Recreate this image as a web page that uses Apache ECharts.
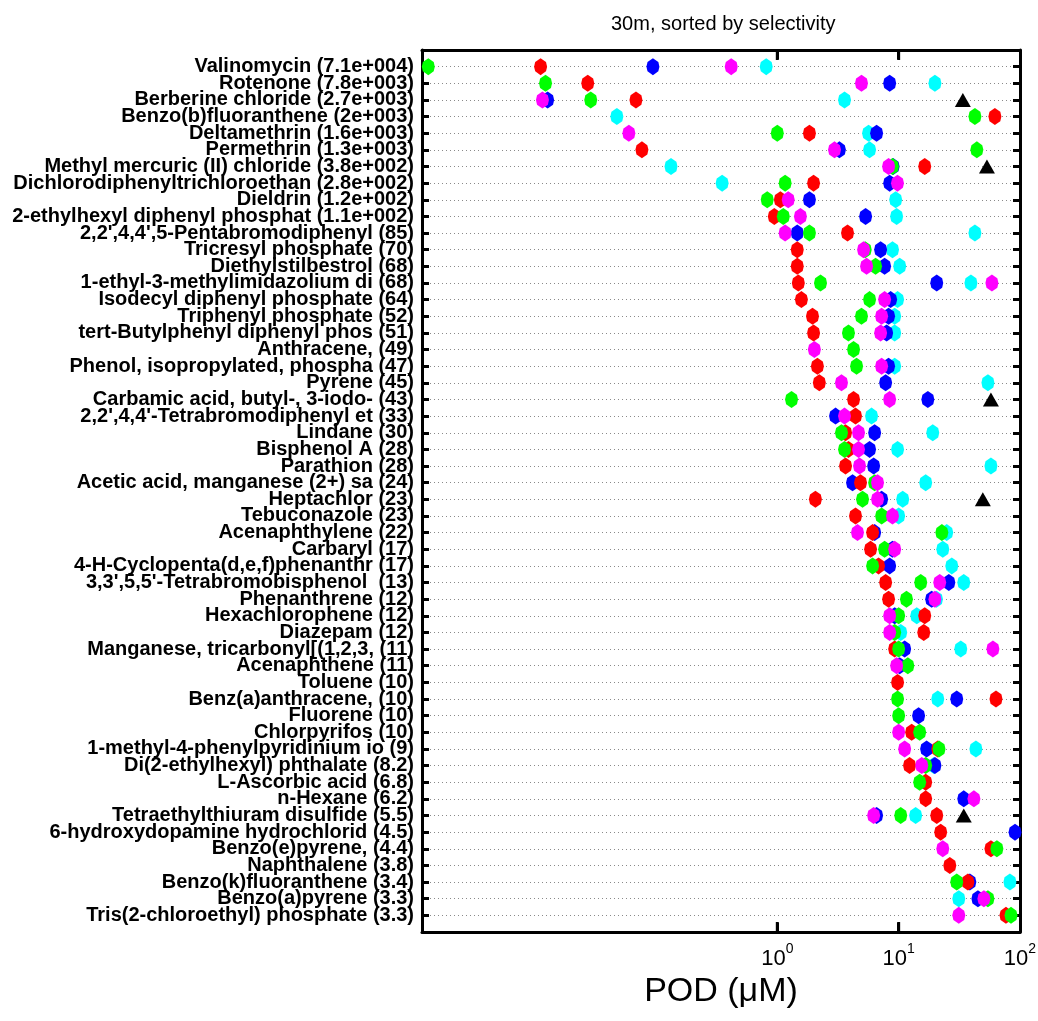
<!DOCTYPE html>
<html>
<head>
<meta charset="utf-8">
<script src="https://cdn.jsdelivr.net/npm/echarts@6/dist/echarts.min.js"></script>
<style>
  html, body { margin: 0; padding: 0; background: #fff; }
  #chartmain { width: 1038px; height: 1021px; }
</style>
</head>
<body>
<div id="chartmain"></div>
<script>
// compounds, top to bottom (selectivity in brackets)
var compounds = [
  'Valinomycin (7.1e+004)', 'Rotenone (7.8e+003)', 'Berberine chloride (2.7e+003)',
  'Benzo(b)fluoranthene (2e+003)', 'Deltamethrin (1.6e+003)', 'Permethrin (1.3e+003)',
  'Methyl mercuric (II) chloride (3.8e+002)', 'Dichlorodiphenyltrichloroethan (2.8e+002)',
  'Dieldrin (1.2e+002)', '2-ethylhexyl diphenyl phosphat (1.1e+002)',
  "2,2',4,4',5-Pentabromodiphenyl (85)", 'Tricresyl phosphate (70)', 'Diethylstilbestrol (68)',
  '1-ethyl-3-methylimidazolium di (68)', 'Isodecyl diphenyl phosphate (64)',
  'Triphenyl phosphate (52)', 'tert-Butylphenyl diphenyl phos (51)', 'Anthracene, (49)',
  'Phenol, isopropylated, phospha (47)', 'Pyrene (45)', 'Carbamic acid, butyl-, 3-iodo- (43)',
  "2,2',4,4'-Tetrabromodiphenyl et (33)", 'Lindane (30)', 'Bisphenol A (28)', 'Parathion (28)',
  'Acetic acid, manganese (2+) sa (24)', 'Heptachlor (23)', 'Tebuconazole (23)',
  'Acenaphthylene (22)', 'Carbaryl (17)', '4-H-Cyclopenta(d,e,f)phenanthr (17)',
  "3,3',5,5'-Tetrabromobisphenol  (13)", 'Phenanthrene (12)', 'Hexachlorophene (12)',
  'Diazepam (12)', 'Manganese, tricarbonyl[(1,2,3, (11)', 'Acenaphthene (11)', 'Toluene (10)',
  'Benz(a)anthracene, (10)', 'Fluorene (10)', 'Chlorpyrifos (10)',
  '1-methyl-4-phenylpyridinium io (9)', 'Di(2-ethylhexyl) phthalate (8.2)',
  'L-Ascorbic acid (6.8)', 'n-Hexane (6.2)', 'Tetraethylthiuram disulfide (5.5)',
  '6-hydroxydopamine hydrochlorid (4.5)', 'Benzo(e)pyrene, (4.4)', 'Naphthalene (3.8)',
  'Benzo(k)fluoranthene (3.4)', 'Benzo(a)pyrene (3.3)', 'Tris(2-chloroethyl) phosphate (3.3)'
];

// POD values (uM), one entry per compound, null = no point
var podGreen = [0.00133, 0.0123, 0.029, 42.5, 1.0, 44.1, 8.9, 1.16, 0.826, 1.12,
  1.84, 5.3, 6.45, 2.27, 5.76, 4.94, 3.86, 4.25, 4.5, null,
  1.31, null, 3.38, 3.58, null, 6.34, 5.04, 7.24, 22.7, 7.66,
  6.1, 15.2, 11.6, 10, 9.27, 10, 11.9, null, 9.8, 10,
  14.9, 21.5, 16.7, 14.9, null, 10.4, null, 64.5, null, 30.1,
  54.4, 84.3];
var podRed = [0.0112, 0.0274, 0.0684, 62.1, 1.84, 0.0766, 16.4, 1.99, 1.06, 0.945,
  3.79, 1.46, 1.46, 1.49, 1.58, 1.95, 1.99, null, 2.14, 2.22,
  4.25, 4.41, 3.65, 3.86, 3.65, 4.85, 2.06, 4.41, 6.1, 5.87,
  6.83, 7.81, 8.26, 16.4, 16.1, 9.27, null, 9.8, 63.4, null,
  12.8, 21, 12.3, 16.7, 16.7, 20.6, 22.2, 57.6, 26.4, 37.2,
  null, 76.6];
var podBlue = [0.0944, 8.43, 0.0128, null, 6.58, 3.25, 9.0, 8.43, 1.84, 5.34,
  1.46, 7.1, 7.66, 20.6, 8.59, 8.26, 7.96, null, 8.26, 7.81,
  17.4, 3.02, 6.34, 5.76, 6.22, 4.17, 7.24, null, 6.34, 8.9,
  8.43, 25.9, 18.7, 9.27, null, 11.2, 10.2, null, 30.1, 14.6,
  null, 17, 19.9, null, 34.4, 6.58, 91, null, null, 38.6,
  45, null];
var podMagenta = [0.417, 4.94, 0.0116, null, 0.0598, 2.96, 8.26, 9.78, 1.23, 1.55,
  1.16, 5.14, 5.44, 58.7, 7.66, 7.24, 7.1, 2.02, 7.24, 3.38,
  8.43, 3.58, 4.67, 4.67, 4.76, 6.7, 6.7, 8.9, 4.58, 9.27,
  null, 21.8, 19.9, 8.43, 8.43, 59.8, 9.62, null, null, null,
  10, 11.2, 15.5, null, 41.7, 6.22, null, 23.1, null, null,
  50.4, 31.3];
var podCyan = [0.81, 19.9, 3.58, 0.0476, 5.65, 5.76, 0.133, 0.351, 9.45, 9.62,
  42.5, 8.9, 10.2, 39.4, 9.8, 9.27, 9.27, null, 9.27, 54.4,
  null, 5.98, 19.1, 9.8, 57.6, 16.7, 10.8, 10, 24.9, 23.1,
  27.4, 34.4, 20.5, 14.1, 10.4, 32.5, null, null, 21, null,
  null, 43.3, 19.5, null, null, 13.8, null, null, null, 82.6,
  31.3, null];
var podTriangle = [null, null, 33.8, null, null, null, 53.4, null, null, null,
  null, null, null, null, null, null, null, null, null, null,
  57.6, null, null, null, null, null, 49.4, null, null, null,
  null, null, null, null, null, null, null, null, null, null,
  null, null, null, null, null, 34.4, null, null, null, null,
  null, null];

var xLabels = [1, 10, 100];
var xTicks = [1, 10];

// empty category at both ends gives the one-row margin of the original
var cats = [' '].concat(compounds, ['  ']);

function pts(vals) {
  var out = [];
  for (var i = 0; i < vals.length; i++) {
    if (vals[i] != null) out.push([vals[i], i + 1]);
  }
  return out;
}

var blob = 'path://M6,0 L11,4 L12,9 L11,14 L6,18 L1,14 L0,9 L1,4 Z';
function dots(name, color, vals) {
  return {
    name: name, type: 'scatter', data: pts(vals),
    symbol: blob, symbolSize: [13, 17],
    itemStyle: { color: color, opacity: 1 },
    silent: true
  };
}

// inward decade ticks on the frame, as small bars on the first / last (empty) row
function frameTick(row, offset) {
  return {
    type: 'scatter', silent: true, clip: false, z: 5,
    data: xTicks.map(function (v) { return [v, row]; }),
    symbol: 'rect', symbolSize: [3, 10], symbolOffset: [0, offset],
    itemStyle: { color: '#000', opacity: 1 }
  };
}

var black = { color: '#000', width: 3 };
var xTickStyle = { show: true, inside: true, length: 9, customValues: xTicks, lineStyle: { color: '#000', width: 3 } };
var option = {
  animation: false,
  title: {
    text: '30m, sorted by selectivity',
    left: 606, top: 9,
    textStyle: { fontFamily: 'Liberation Sans', fontWeight: 'normal', fontSize: 20, color: '#000' }
  },
  grid: { left: 422, right: 18, top: 50, bottom: 89, outerBoundsMode: 'none' },
  xAxis: [{
    type: 'log', logBase: 10, min: 0.00118, max: 100,
    position: 'bottom',
    axisLine: { show: true, lineStyle: black },
    axisTick: xTickStyle,
    axisLabel: {
      customValues: xLabels, margin: 10, color: '#000',
      formatter: function (v) { return '{b|10}{s|' + Math.round(Math.log10(v)) + '}'; },
      rich: {
        b: { fontFamily: 'Liberation Sans', fontSize: 22, lineHeight: 28, verticalAlign: 'bottom' },
        s: { fontFamily: 'Liberation Sans', fontSize: 14, lineHeight: 28, verticalAlign: 'top' }
      }
    },
    splitLine: { show: false },
    name: 'POD (\u03bcM)', nameLocation: 'middle', nameGap: 43,
    nameTextStyle: { fontFamily: 'Liberation Sans', fontSize: 34, color: '#000' }
  }, {
    type: 'log', logBase: 10, min: 0.00118, max: 100,
    position: 'top',
    axisLine: { show: true, lineStyle: black },
    axisTick: xTickStyle,
    axisLabel: { show: false },
    splitLine: { show: false }
  }],
  yAxis: [{
    type: 'category', data: cats, inverse: true, boundaryGap: false,
    axisLine: { lineStyle: black },
    axisTick: { inside: true, length: 7, lineStyle: { color: '#000', width: 3 } },
    axisLabel: {
      interval: 0, margin: 8, color: '#000',
      fontFamily: 'Liberation Sans', fontWeight: 'bold', fontSize: 20
    },
    splitLine: { show: true, lineStyle: { color: '#8a8a8a', width: 1, type: [1, 3] } }
  }, {
    type: 'category', data: cats, inverse: true, boundaryGap: false,
    position: 'right',
    axisLine: { lineStyle: black },
    axisTick: { inside: true, length: 7, lineStyle: { color: '#000', width: 3 } },
    axisLabel: { show: false },
    splitLine: { show: false }
  }],
  series: [
    frameTick(0, 5),
    frameTick(cats.length - 1, -5),
    dots('cyan', '#00ffff', podCyan),
    dots('blue', '#0000ff', podBlue),
    dots('red', '#ff0000', podRed),
    dots('green', '#00ff00', podGreen),
    dots('magenta', '#ff00ff', podMagenta),
    {
      name: 'triangle', type: 'scatter', data: pts(podTriangle),
      symbol: 'triangle', symbolSize: [16, 14],
      itemStyle: { color: '#000', opacity: 1 }, silent: true
    }
  ]
};

var myChart = echarts.init(document.getElementById('chartmain'));
myChart.setOption(option);
</script>
</body>
</html>
